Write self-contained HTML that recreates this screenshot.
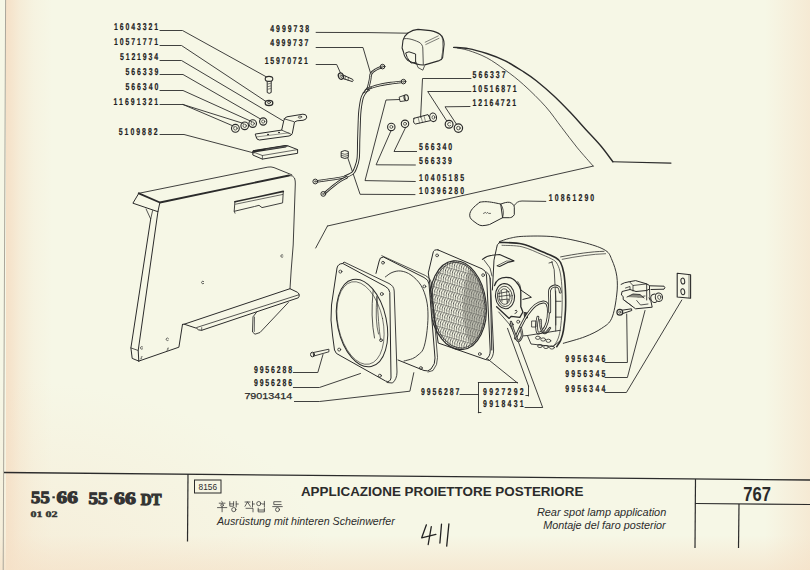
<!DOCTYPE html>
<html><head><meta charset="utf-8">
<style>
html,body{margin:0;padding:0;background:#f6f7e6;}
body{width:810px;height:570px;overflow:hidden;position:relative;}
svg{position:absolute;left:0;top:0;}
.lb{font-family:"Liberation Sans",sans-serif;font-weight:bold;fill:#1e1e1e;stroke:#1e1e1e;stroke-width:0.2;text-rendering:geometricPrecision;}
.lbw{font-family:"Liberation Sans",sans-serif;fill:#2b2b2b;stroke:#2b2b2b;stroke-width:0.25;}
</style></head><body>
<svg width="810" height="570" viewBox="0 0 810 570">
<defs>
<linearGradient id="gL" x1="0" x2="1" y1="0" y2="0">
<stop offset="0" stop-color="#f5e1c8" stop-opacity="1"/>
<stop offset="0.08" stop-color="#f5e1c8" stop-opacity="0.9"/>
<stop offset="0.3" stop-color="#f5e1c8" stop-opacity="0.5"/>
<stop offset="0.6" stop-color="#f5e1c8" stop-opacity="0.18"/>
<stop offset="1" stop-color="#f5e1c8" stop-opacity="0"/>
</linearGradient>
<linearGradient id="gR" x1="0" x2="1" y1="0" y2="0">
<stop offset="0" stop-color="#f5e1c8" stop-opacity="0"/>
<stop offset="1" stop-color="#f5e1c8" stop-opacity="0.6"/>
</linearGradient>
<linearGradient id="gB" x1="0" x2="0" y1="0" y2="1">
<stop offset="0" stop-color="#f5e1c8" stop-opacity="0"/>
<stop offset="1" stop-color="#f5e1c8" stop-opacity="0.65"/>
</linearGradient>
<radialGradient id="gBL" cx="0" cy="1" r="1">
<stop offset="0" stop-color="#f5e1c8" stop-opacity="0.45"/>
<stop offset="1" stop-color="#f5e1c8" stop-opacity="0"/>
</radialGradient>
<pattern id="scal" x="0" y="0" width="2.4" height="7.4" patternUnits="userSpaceOnUse" patternTransform="rotate(16)">
<path d="M1.9,0.4 Q0.4,3.7 1.9,7.0" stroke="#333" stroke-width="0.75" fill="none"/>
<line x1="0" y1="0" x2="2.4" y2="0" stroke="#333" stroke-width="0.8"/>
</pattern>
</defs>
<rect x="0" y="0" width="810" height="570" fill="#f6f7e6"/>
<rect x="6" y="0" width="46" height="570" fill="url(#gL)"/>
<rect x="765" y="0" width="45" height="570" fill="url(#gR)"/>
<rect x="0" y="535" width="810" height="35" fill="url(#gB)"/>
<rect x="0" y="380" width="330" height="190" fill="url(#gBL)"/>
<line x1="5.6" y1="0" x2="3.2" y2="570" stroke="#aaa69a" stroke-width="1"/>

<g stroke="#2b2b2b" fill="none">
<line x1="4" y1="472.5" x2="810" y2="480" stroke-width="1.3"/>
<line x1="188" y1="474" x2="187.5" y2="541.5" stroke-width="1.2"/>
<line x1="695.5" y1="479" x2="695" y2="548" stroke-width="1.2"/>
<line x1="739" y1="504" x2="738.5" y2="548" stroke-width="1.2"/>
<line x1="695" y1="503.5" x2="810" y2="504.5" stroke-width="1.2"/>
<rect x="194.5" y="480" width="26.5" height="13" stroke-width="1"/>
</g>
<g font-family="Liberation Serif" font-weight="bold" fill="#333" stroke="#333" stroke-width="1.1" text-rendering="geometricPrecision">
<text x="31.1" y="503.2" font-size="17.2" textLength="18.6" lengthAdjust="spacingAndGlyphs">55</text>
<text x="56.6" y="503.2" font-size="17.2" textLength="21.3" lengthAdjust="spacingAndGlyphs">66</text>
<text x="88.5" y="504" font-size="17.2" textLength="19.2" lengthAdjust="spacingAndGlyphs">55</text>
<text x="114.1" y="504" font-size="17.2" textLength="21.8" lengthAdjust="spacingAndGlyphs">66</text>
<text x="140.8" y="504.6" font-size="16.6" stroke-width="1.2" textLength="20.8" lengthAdjust="spacingAndGlyphs">DT</text>
<text x="30.5" y="517" font-size="8.5" stroke-width="0.4" textLength="27" lengthAdjust="spacingAndGlyphs">01 02</text>
</g>
<rect x="52.4" y="496.3" width="2.4" height="2" fill="#333"/>
<rect x="109.7" y="497.3" width="2.5" height="2" fill="#333"/>
<g font-family="Liberation Sans" fill="#2b2b2b">
<text x="198.6" y="490" font-size="8.2" textLength="18.4" lengthAdjust="spacingAndGlyphs">8156</text>
<text x="300.9" y="496.3" font-size="13.6" font-weight="bold" textLength="282.5" lengthAdjust="spacingAndGlyphs">APPLICAZIONE PROIETTORE POSTERIORE</text>
<text x="217" y="524.5" font-size="11.5" font-style="italic" textLength="177.8" lengthAdjust="spacingAndGlyphs">Ausrüstung mit hinteren Scheinwerfer</text>
<text x="536.9" y="515.7" font-size="11.2" font-style="italic" textLength="129.4" lengthAdjust="spacingAndGlyphs">Rear spot lamp application</text>
<text x="543.2" y="529.4" font-size="11.2" font-style="italic" textLength="122.5" lengthAdjust="spacingAndGlyphs">Montaje del faro posterior</text>
<text x="743.2" y="500.8" font-size="20" font-weight="bold" textLength="27.7" lengthAdjust="spacingAndGlyphs">767</text>
</g>
<g fill="none" stroke="#2b2b2b" stroke-linecap="round" stroke-linejoin="round">
</g><g>
<text class="lb" transform="translate(113.9,30.3) scale(0.7,1)" x="0" y="0" font-size="9.88" textLength="63.1" lengthAdjust="spacing">16043321</text>
<text class="lb" transform="translate(113.9,45.1) scale(0.7,1)" x="0" y="0" font-size="9.88" textLength="63.1" lengthAdjust="spacing">10571771</text>
<text class="lb" transform="translate(120.0,60.3) scale(0.7,1)" x="0" y="0" font-size="9.88" textLength="54.3" lengthAdjust="spacing">5121934</text>
<text class="lb" transform="translate(125.4,74.8) scale(0.7,1)" x="0" y="0" font-size="9.88" textLength="47.0" lengthAdjust="spacing">566339</text>
<text class="lb" transform="translate(125.4,89.9) scale(0.7,1)" x="0" y="0" font-size="9.88" textLength="47.0" lengthAdjust="spacing">566340</text>
<text class="lb" transform="translate(113.6,105.0) scale(0.7,1)" x="0" y="0" font-size="9.88" textLength="63.7" lengthAdjust="spacing">11691321</text>
<text class="lb" transform="translate(118.8,134.8) scale(0.7,1)" x="0" y="0" font-size="9.88" textLength="55.4" lengthAdjust="spacing">5109882</text>
<text class="lb" transform="translate(270.2,31.7) scale(0.7,1)" x="0" y="0" font-size="9.88" textLength="55.6" lengthAdjust="spacing">4999738</text>
<text class="lb" transform="translate(270.2,45.9) scale(0.7,1)" x="0" y="0" font-size="9.88" textLength="54.4" lengthAdjust="spacing">4999737</text>
<text class="lb" transform="translate(264.7,64.2) scale(0.7,1)" x="0" y="0" font-size="9.88" textLength="61.6" lengthAdjust="spacing">15970721</text>
<text class="lb" transform="translate(472.6,78.0) scale(0.7,1)" x="0" y="0" font-size="9.88" textLength="47.0" lengthAdjust="spacing">566337</text>
<text class="lb" transform="translate(472.6,91.7) scale(0.7,1)" x="0" y="0" font-size="9.88" textLength="62.7" lengthAdjust="spacing">10516871</text>
<text class="lb" transform="translate(472.6,105.7) scale(0.7,1)" x="0" y="0" font-size="9.88" textLength="62.0" lengthAdjust="spacing">12164721</text>
<text class="lb" transform="translate(419.1,150.4) scale(0.7,1)" x="0" y="0" font-size="9.88" textLength="47.3" lengthAdjust="spacing">566340</text>
<text class="lb" transform="translate(419.0,164.4) scale(0.7,1)" x="0" y="0" font-size="9.88" textLength="47.1" lengthAdjust="spacing">566339</text>
<text class="lb" transform="translate(419.0,180.6) scale(0.7,1)" x="0" y="0" font-size="9.88" textLength="64.3" lengthAdjust="spacing">10405185</text>
<text class="lb" transform="translate(419.0,194.3) scale(0.7,1)" x="0" y="0" font-size="9.88" textLength="64.3" lengthAdjust="spacing">10396280</text>
<text class="lb" transform="translate(548.8,201.3) scale(0.7,1)" x="0" y="0" font-size="9.88" textLength="64.9" lengthAdjust="spacing">10861290</text>
<text class="lb" transform="translate(253.9,372.5) scale(0.7,1)" x="0" y="0" font-size="9.88" textLength="54.7" lengthAdjust="spacing">9956288</text>
<text class="lb" transform="translate(253.9,385.9) scale(0.7,1)" x="0" y="0" font-size="9.88" textLength="54.7" lengthAdjust="spacing">9956286</text>
<text class="lb" transform="translate(421.0,395.0) scale(0.7,1)" x="0" y="0" font-size="9.88" textLength="54.7" lengthAdjust="spacing">9956287</text>
<text class="lb" transform="translate(483.0,395.0) scale(0.7,1)" x="0" y="0" font-size="9.88" textLength="58.1" lengthAdjust="spacing">9927292</text>
<text class="lb" transform="translate(483.0,406.9) scale(0.7,1)" x="0" y="0" font-size="9.88" textLength="58.1" lengthAdjust="spacing">9918431</text>
<text class="lb" transform="translate(565.3,362.4) scale(0.7,1)" x="0" y="0" font-size="9.88" textLength="57.1" lengthAdjust="spacing">9956346</text>
<text class="lb" transform="translate(565.3,377.1) scale(0.7,1)" x="0" y="0" font-size="9.88" textLength="57.1" lengthAdjust="spacing">9956345</text>
<text class="lb" transform="translate(565.3,392.2) scale(0.7,1)" x="0" y="0" font-size="9.88" textLength="57.1" lengthAdjust="spacing">9956344</text>
<text class="lbw" x="244.4" y="399.4" font-size="9.05" textLength="47.8" lengthAdjust="spacingAndGlyphs">79013414</text>
</g><g fill="none" stroke="#2b2b2b" stroke-linecap="round" stroke-linejoin="round">
<polyline points="160.0,30.5 182.5,30.5 266.6,77.0" stroke="#2b2b2b" stroke-width="0.9" fill="none" stroke-linejoin="round"/>
<polyline points="160.0,45.5 181.5,45.5 265.7,101.3" stroke="#2b2b2b" stroke-width="0.9" fill="none" stroke-linejoin="round"/>
<polyline points="160.0,60.5 181.5,60.5 283.2,120.9" stroke="#2b2b2b" stroke-width="0.9" fill="none" stroke-linejoin="round"/>
<polyline points="160.0,74.5 183.0,74.5 260.5,119.0" stroke="#2b2b2b" stroke-width="0.9" fill="none" stroke-linejoin="round"/>
<polyline points="160.0,90.5 183.0,90.5 251.5,121.5" stroke="#2b2b2b" stroke-width="0.9" fill="none" stroke-linejoin="round"/>
<polyline points="160.0,104.5 183.0,104.5 243.2,123.4" stroke="#2b2b2b" stroke-width="0.9" fill="none" stroke-linejoin="round"/>
<polyline points="183.0,104.5 233.2,126.0" stroke="#2b2b2b" stroke-width="0.9" fill="none" stroke-linejoin="round"/>
<polyline points="160.0,134.5 184.0,134.5 254.0,153.0" stroke="#2b2b2b" stroke-width="0.9" fill="none" stroke-linejoin="round"/>
<polyline points="316.1,32.4 370.0,32.6 407.9,33.2" stroke="#2b2b2b" stroke-width="0.9" fill="none" stroke-linejoin="round"/>
<polyline points="316.1,47.5 363.0,47.5 370.5,73.0" stroke="#2b2b2b" stroke-width="0.9" fill="none" stroke-linejoin="round"/>
<polyline points="316.1,64.5 336.7,64.5 340.5,73.0" stroke="#2b2b2b" stroke-width="0.9" fill="none" stroke-linejoin="round"/>
<polyline points="471.0,78.5 422.5,78.5 420.6,117.3" stroke="#2b2b2b" stroke-width="0.9" fill="none" stroke-linejoin="round"/>
<polyline points="471.0,91.5 427.7,91.5 446.7,120.9" stroke="#2b2b2b" stroke-width="0.9" fill="none" stroke-linejoin="round"/>
<polyline points="470.0,106.5 445.0,106.8 456.4,124.1" stroke="#2b2b2b" stroke-width="0.9" fill="none" stroke-linejoin="round"/>
<polyline points="405.6,127.5 394.0,151.5 416.6,151.5" stroke="#2b2b2b" stroke-width="0.9" fill="none" stroke-linejoin="round"/>
<polyline points="390.9,131.0 376.1,164.8 415.4,165.0" stroke="#2b2b2b" stroke-width="0.9" fill="none" stroke-linejoin="round"/>
<polyline points="399.5,99.5 386.0,100.0 365.0,180.6 415.3,181.5" stroke="#2b2b2b" stroke-width="0.9" fill="none" stroke-linejoin="round"/>
<polyline points="347.9,158.2 360.1,194.3 415.0,194.6" stroke="#2b2b2b" stroke-width="0.9" fill="none" stroke-linejoin="round"/>
<path d="M514.3,205.4 Q517,201 522,201 L545.8,201.4" stroke="#2b2b2b" stroke-width="0.9" fill="none" stroke-linejoin="round" stroke-linecap="round" />
<polyline points="293.3,372.5 317.8,372.5 323.0,354.5" stroke="#2b2b2b" stroke-width="0.9" fill="none" stroke-linejoin="round"/>
<polyline points="293.3,387.5 319.4,387.5 360.5,373.5" stroke="#2b2b2b" stroke-width="0.9" fill="none" stroke-linejoin="round"/>
<polyline points="294.4,401.5 319.4,401.5 409.9,391.2 413.8,372.7" stroke="#2b2b2b" stroke-width="0.9" fill="none" stroke-linejoin="round"/>
<polyline points="460.0,394.5 478.3,394.5" stroke="#2b2b2b" stroke-width="0.9" fill="none" stroke-linejoin="round"/>
<polyline points="517.5,382.5 478.3,382.5" stroke="#2b2b2b" stroke-width="0.9" fill="none" stroke-linejoin="round"/>
<line x1="478.5" y1="382.5" x2="478.5" y2="412.8" stroke="#2b2b2b" stroke-width="0.9"/>
<polyline points="478.3,412.5 481.0,412.5" stroke="#2b2b2b" stroke-width="0.9" fill="none" stroke-linejoin="round"/>
<line x1="517.5" y1="383.0" x2="485.8" y2="357.5" stroke="#2b2b2b" stroke-width="0.9"/>
<polyline points="525.8,395.5 528.5,395.5" stroke="#2b2b2b" stroke-width="0.9" fill="none" stroke-linejoin="round"/>
<line x1="528.5" y1="396.0" x2="528.5" y2="386.0" stroke="#2b2b2b" stroke-width="0.9"/>
<line x1="528.5" y1="386.0" x2="507.5" y2="328.3" stroke="#2b2b2b" stroke-width="0.9"/>
<polyline points="525.0,407.5 542.5,407.5" stroke="#2b2b2b" stroke-width="0.9" fill="none" stroke-linejoin="round"/>
<line x1="542.5" y1="407.0" x2="518.3" y2="341.7" stroke="#2b2b2b" stroke-width="0.9"/>
<polyline points="605.0,362.5 627.4,362.5 626.7,314.0" stroke="#2b2b2b" stroke-width="0.9" fill="none" stroke-linejoin="round"/>
<polyline points="605.0,377.5 627.4,377.5 645.0,310.5" stroke="#2b2b2b" stroke-width="0.9" fill="none" stroke-linejoin="round"/>
<polyline points="605.0,392.5 626.4,392.5 681.8,300.0" stroke="#2b2b2b" stroke-width="0.9" fill="none" stroke-linejoin="round"/>
<path d="M453.7,47.4 C456.1,47.6 462.9,47.6 468.4,48.6 C473.9,49.6 480.6,51.5 486.8,53.5 C493.0,55.5 499.1,57.8 505.3,60.9 C511.5,64.0 518.5,68.6 523.7,71.9 C528.9,75.2 531.3,76.8 536.3,80.8 C541.3,84.8 548.2,90.7 553.7,95.8 C559.2,100.9 564.2,106.1 569.5,111.6 C574.8,117.1 580.0,123.2 585.3,129.0 C590.6,134.8 596.5,140.8 601.1,146.3 C605.7,151.8 610.9,159.2 612.9,161.8" stroke="#2b2b2b" stroke-width="1.4" fill="none" stroke-linejoin="round" stroke-linecap="round" />
<line x1="612.9" y1="161.8" x2="671.0" y2="163.1" stroke="#2b2b2b" stroke-width="1.1"/>
<path d="M457.4,48.0 C459.2,48.4 463.5,48.8 468.4,50.4 C473.3,52.0 480.6,54.5 486.8,57.8 C493.0,61.1 499.1,65.6 505.3,70.1 C511.5,74.6 517.0,78.7 523.7,84.8 C530.5,90.9 539.5,99.7 545.8,106.8 C552.1,113.9 556.3,120.6 561.6,127.4 C566.9,134.2 572.1,141.5 577.4,147.9 C582.7,154.3 590.6,163.1 593.2,166.1" stroke="#2b2b2b" stroke-width="0.8" fill="none" stroke-linejoin="round" stroke-linecap="round" />
<line x1="593.2" y1="166.1" x2="327.5" y2="226.0" stroke="#2b2b2b" stroke-width="0.9"/>
<line x1="327.5" y1="226.0" x2="315.7" y2="248.0" stroke="#2b2b2b" stroke-width="0.9"/>
<path d="M479.8,202.3 C476,205 471,209 469.9,213.4 C469,217 471,219 472.3,220.2 C476,223 479,225.7 482.2,225.7 C485,225.7 487,225 489.6,224.5 L502.6,217.7 L500.7,204.1 C494,202.5 488,201.5 484.7,201.7 C482,201.8 481,202 479.8,202.3 Z" stroke="#2b2b2b" stroke-width="1.0" fill="none" stroke-linejoin="round" stroke-linecap="round" />
<path d="M500.7,204.1 C504,202.8 507,202 509.4,202.3 C512,203 514.3,205 514.3,207.2 L514.3,214.6 C513,217 511,217.7 509.4,217.7 L502.6,217.7" stroke="#2b2b2b" stroke-width="1.0" fill="none" stroke-linejoin="round" stroke-linecap="round" />
<path d="M500.7,204.1 Q505,210 502.6,217.7" stroke="#2b2b2b" stroke-width="0.8" fill="none" stroke-linejoin="round" stroke-linecap="round" />
<path d="M483.5,213.4 l2,-1 l1,1 l1,-1 l1,1 l2,0" stroke="#2b2b2b" stroke-width="0.7" fill="none" stroke-linejoin="round" stroke-linecap="round" />
<path d="M267.2,80.5 L267.2,92.5 Q269.2,94.2 271.2,92.5 L271.2,80.5" stroke="#2b2b2b" stroke-width="1.0" fill="none" stroke-linejoin="round" stroke-linecap="round" />
<ellipse cx="269.0" cy="78.9" rx="3.8" ry="2.5" transform="rotate(0 269.0 78.9)" stroke="#2b2b2b" stroke-width="1.1" fill="#f6f7e6"/>
<path d="M268,84 L270.4,83.4 M268,86.6 L270.4,86 M268,89.2 L270.4,88.6" stroke="#2b2b2b" stroke-width="0.6" fill="none" stroke-linejoin="round" stroke-linecap="round" />
<ellipse cx="269.0" cy="102.9" rx="3.8" ry="2.6" transform="rotate(0 269.0 102.9)" stroke="#2b2b2b" stroke-width="1.3" fill="none"/>
<ellipse cx="269.0" cy="102.5" rx="1.6" ry="1.0" transform="rotate(0 269.0 102.5)" stroke="#2b2b2b" stroke-width="0.8" fill="none"/>
<circle cx="263.2" cy="121.5" r="3.6" stroke="#2b2b2b" stroke-width="1.1" fill="none"/>
<circle cx="263.2" cy="121.5" r="1.6" stroke="#2b2b2b" stroke-width="0.7" fill="none"/>
<circle cx="252.7" cy="123.6" r="3.8" stroke="#2b2b2b" stroke-width="1.1" fill="none"/>
<circle cx="252.7" cy="123.6" r="1.7" stroke="#2b2b2b" stroke-width="0.7" fill="none"/>
<circle cx="244.7" cy="125.8" r="3.8" stroke="#2b2b2b" stroke-width="1.1" fill="none"/>
<circle cx="244.7" cy="125.8" r="1.7" stroke="#2b2b2b" stroke-width="0.7" fill="none"/>
<circle cx="235.4" cy="128.3" r="3.9" stroke="#2b2b2b" stroke-width="1.1" fill="none"/>
<circle cx="235.4" cy="128.3" r="1.8" stroke="#2b2b2b" stroke-width="0.7" fill="none"/>
<path d="M255.6,134 L281.7,130.1 L283.8,120.5 Q284.5,117.5 287,116.8 L302.9,114.2 Q306.5,114 306.8,117.1 Q306.5,119.8 303,120.3 L297.1,120.8 L294.5,122 L292.3,133.5 Q291.5,135.5 289,136 L259.5,140 Q256.5,140 256.1,137 Z" stroke="#2b2b2b" stroke-width="1.0" fill="none" stroke-linejoin="round" stroke-linecap="round" />
<path d="M284.1,118.8 L293.8,121.6" stroke="#2b2b2b" stroke-width="0.8" fill="none" stroke-linejoin="round" stroke-linecap="round" />
<path d="M281.7,130.1 L291.8,134.6" stroke="#2b2b2b" stroke-width="0.8" fill="none" stroke-linejoin="round" stroke-linecap="round" />
<path d="M256.1,137 L289,132.8" stroke="#2b2b2b" stroke-width="0.5" fill="none" stroke-linejoin="round" stroke-linecap="round" />
<ellipse cx="300.0" cy="117.1" rx="1.7" ry="1.0" transform="rotate(-10 300.0 117.1)" stroke="#2b2b2b" stroke-width="0.7" fill="none"/>
<circle cx="268" cy="134.5" r="0.5" fill="#2b2b2b"/><circle cx="279" cy="132.5" r="0.5" fill="#2b2b2b"/>
<path d="M253.2,151 L287,145.5 L297.6,149.6 L297.6,153.3 L262.4,159.1 L253.2,155.2 Z" stroke="#2b2b2b" stroke-width="1.0" fill="none" stroke-linejoin="round" stroke-linecap="round" />
<path d="M254,151.2 L285.6,146.2" stroke="#2b2b2b" stroke-width="2.4" fill="none" stroke-linejoin="round" stroke-linecap="round" />
<path d="M253.2,152 L262.4,155.5 L297.6,149.6 M262.4,155.5 L262.4,159.1" stroke="#2b2b2b" stroke-width="0.7" fill="none" stroke-linejoin="round" stroke-linecap="round" />
<path d="M266,149.5 L288,146" stroke="#555" stroke-width="1.2" fill="none" stroke-linejoin="round" stroke-linecap="round" />
<path d="M138.8,193.3 L267.9,167.1 Q271,166.5 274,167.6 L291.8,174.8" stroke="#2b2b2b" stroke-width="0.9" fill="none" stroke-linejoin="round" stroke-linecap="round" />
<path d="M138.8,193.3 L159.9,202.5 L289,175.5" stroke="#2b2b2b" stroke-width="1.9" fill="none" stroke-linejoin="round" stroke-linecap="round" />
<path d="M289,175.5 Q293,175 294.5,178 Q295.5,181 295.3,184 L293.2,245 L291.2,270 L290,288.7" stroke="#2b2b2b" stroke-width="0.9" fill="none" stroke-linejoin="round" stroke-linecap="round" />
<path d="M138.8,193.3 L132.9,203.2 L157.9,211.7 L159.9,202.5" stroke="#2b2b2b" stroke-width="1.0" fill="none" stroke-linejoin="round" stroke-linecap="round" />
<path d="M146.1,209 L150.7,219 L152.6,210.6" stroke="#2b2b2b" stroke-width="0.8" fill="none" stroke-linejoin="round" stroke-linecap="round" />
<path d="M150.7,219 L130.9,347.9 L132.2,358.4 L138.8,361.1" stroke="#2b2b2b" stroke-width="1.0" fill="none" stroke-linejoin="round" stroke-linecap="round" />
<path d="M158,211.2 L138.2,350.5 L138.8,361.1" stroke="#2b2b2b" stroke-width="1.0" fill="none" stroke-linejoin="round" stroke-linecap="round" />
<path d="M130.9,347.9 L138.2,350.5" stroke="#2b2b2b" stroke-width="0.8" fill="none" stroke-linejoin="round" stroke-linecap="round" />
<path d="M138.8,361.1 L178.9,347.2 L182.5,324.4" stroke="#2b2b2b" stroke-width="1.0" fill="none" stroke-linejoin="round" stroke-linecap="round" />
<path d="M182.5,324.4 L184.2,324.2 L290,288.7 L297.5,292.3 Q299.8,293.8 299.2,296.2 L298.3,297.8 L201.7,330.3 Q198,330.5 196.7,328.3 L184.2,324.2" stroke="#2b2b2b" stroke-width="1.0" fill="none" stroke-linejoin="round" stroke-linecap="round" />
<path d="M196.7,327.5 L298.8,294.8" stroke="#2b2b2b" stroke-width="0.8" fill="none" stroke-linejoin="round" stroke-linecap="round" />
<path d="M201.7,327.6 L201.7,330.3" stroke="#2b2b2b" stroke-width="0.7" fill="none" stroke-linejoin="round" stroke-linecap="round" />
<path d="M256.7,312 L253,316.8 L252.5,332 L255,334.2 L260,332.5 L288.3,302.5" stroke="#2b2b2b" stroke-width="0.9" fill="none" stroke-linejoin="round" stroke-linecap="round" />
<path d="M254.5,317 L254.3,331.5" stroke="#555" stroke-width="0.9" fill="none" stroke-linejoin="round" stroke-linecap="round" />
<path d="M234.9,201.8 L283.3,191.4" stroke="#2b2b2b" stroke-width="1.6" fill="none" stroke-linejoin="round" stroke-linecap="round" />
<path d="M283.3,191.4 L282.6,202.9 L262,207.6 L259,205.3 L254.5,206.5 L234.2,211.3 L234.9,201.8" stroke="#2b2b2b" stroke-width="0.9" fill="none" stroke-linejoin="round" stroke-linecap="round" />
<path d="M235.6,204.2 L282.6,194.5" stroke="#2b2b2b" stroke-width="0.7" fill="none" stroke-linejoin="round" stroke-linecap="round" />
<path d="M234.2,211.3 L235,213.2" stroke="#2b2b2b" stroke-width="0.8" fill="none" stroke-linejoin="round" stroke-linecap="round" />
<path d="M282.9,255.0 A1.3,1.3 0 1 0 282.9,257.0" stroke="#2b2b2b" stroke-width="0.7" fill="none" stroke-linejoin="round" stroke-linecap="round" />
<path d="M203.7,281.5 A1.3,1.3 0 1 0 203.7,283.5" stroke="#2b2b2b" stroke-width="0.7" fill="none" stroke-linejoin="round" stroke-linecap="round" />
<path d="M168.3,338.3 A1.3,1.3 0 1 0 168.3,340.3" stroke="#2b2b2b" stroke-width="0.7" fill="none" stroke-linejoin="round" stroke-linecap="round" />
<path d="M142.6,346.9 A1.3,1.3 0 1 0 142.6,348.9" stroke="#2b2b2b" stroke-width="0.7" fill="none" stroke-linejoin="round" stroke-linecap="round" />
<path d="M168.6,348.0 Q166.8,347.7 167.8,349.2 Q168.8,350.4 166.9,350.3" stroke="#2b2b2b" stroke-width="0.6" fill="none" stroke-linejoin="round" stroke-linecap="round" />
<path d="M142.2,356.6 Q140.4,356.3 141.4,357.8 Q142.4,359.0 140.5,358.9" stroke="#2b2b2b" stroke-width="0.6" fill="none" stroke-linejoin="round" stroke-linecap="round" />
<path d="M407.9,33 C411,31 414,29.6 418,29.4 L430.6,30.6 C435,31.5 438,32.5 440.2,34.5 C443,37 444.1,40 444.1,44.1 L442.6,57.7 C442,59 441,60 439.2,60.6 L424.8,64.9 C419,65.5 413,63 408,60.5 C405,58 404,55 403.5,52 L402.1,48 L403,40.3 C404,37 406,34.5 407.9,33 Z" stroke="#2b2b2b" stroke-width="1.1" fill="none" stroke-linejoin="round" stroke-linecap="round" />
<path d="M404,38.8 C407,38 412,39 419,42.2 C421.5,43.5 422.8,46 422.8,48 L423.3,64.4" stroke="#2b2b2b" stroke-width="0.8" fill="none" stroke-linejoin="round" stroke-linecap="round" />
<path d="M425.2,42.2 L438.3,35.9 M425.8,44.5 L439,38.3" stroke="#2b2b2b" stroke-width="0.6" fill="none" stroke-linejoin="round" stroke-linecap="round" />
<path d="M442,36 C443,42 443.5,50 441.5,58" stroke="#2b2b2b" stroke-width="0.6" fill="none" stroke-linejoin="round" stroke-linecap="round" />
<path d="M406,52.8 L409,51.8 L415.6,54 L415.6,62.5 L411,63 L407.5,58 Z" stroke="#2b2b2b" stroke-width="1.0" fill="none" stroke-linejoin="round" stroke-linecap="round" />
<path d="M416,62 L418,67.5 L422.8,70.2 L424.5,66" stroke="#2b2b2b" stroke-width="0.8" fill="none" stroke-linejoin="round" stroke-linecap="round" />
<path d="M368.0,88.5 C367.1,89.9 363.8,93.2 362.5,96.8 C361.2,100.4 360.5,105.9 360.0,110.0 C359.5,114.1 359.5,116.3 359.3,121.3 C359.1,126.3 358.9,133.8 358.7,140.0 C358.5,146.2 358.7,153.5 358.2,158.2 C357.7,162.9 356.4,165.6 355.5,168.0 C354.6,170.4 354.5,171.4 352.8,172.9 C351.1,174.4 346.6,176.2 345.4,176.8" stroke="#2b2b2b" stroke-width="3.2" fill="none" stroke-linejoin="round" stroke-linecap="round" />
<path d="M368.0,88.5 C367.1,89.9 363.8,93.2 362.5,96.8 C361.2,100.4 360.5,105.9 360.0,110.0 C359.5,114.1 359.5,116.3 359.3,121.3 C359.1,126.3 358.9,133.8 358.7,140.0 C358.5,146.2 358.7,153.5 358.2,158.2 C357.7,162.9 356.4,165.6 355.5,168.0 C354.6,170.4 354.5,171.4 352.8,172.9 C351.1,174.4 346.6,176.2 345.4,176.8" stroke="#f6f7e6" stroke-width="1.3" fill="none" stroke-linejoin="round" stroke-linecap="round" />
<path d="M368.0,88.5 C368.3,87.1 369.5,82.5 370.0,80.0 C370.5,77.5 370.2,75.2 371.2,73.5 C372.2,71.8 374.4,70.5 376.0,69.5 C377.6,68.5 379.8,67.8 380.5,67.5" stroke="#2b2b2b" stroke-width="2.6" fill="none" stroke-linejoin="round" stroke-linecap="round" />
<path d="M368.0,88.5 C368.3,87.1 369.5,82.5 370.0,80.0 C370.5,77.5 370.2,75.2 371.2,73.5 C372.2,71.8 374.4,70.5 376.0,69.5 C377.6,68.5 379.8,67.8 380.5,67.5" stroke="#f6f7e6" stroke-width="0.9" fill="none" stroke-linejoin="round" stroke-linecap="round" />
<path d="M368.0,88.5 C370.0,87.9 376.0,85.9 380.0,85.0 C384.0,84.1 388.5,83.5 392.0,83.0 C395.5,82.5 399.5,82.2 401.0,82.0" stroke="#2b2b2b" stroke-width="2.6" fill="none" stroke-linejoin="round" stroke-linecap="round" />
<path d="M368.0,88.5 C370.0,87.9 376.0,85.9 380.0,85.0 C384.0,84.1 388.5,83.5 392.0,83.0 C395.5,82.5 399.5,82.2 401.0,82.0" stroke="#f6f7e6" stroke-width="0.9" fill="none" stroke-linejoin="round" stroke-linecap="round" />
<circle cx="382.6" cy="66.6" r="2.3" stroke="#2b2b2b" stroke-width="1.0" fill="none"/>
<circle cx="382.6" cy="66.6" r="0.8" stroke="#2b2b2b" stroke-width="0.6" fill="none"/>
<circle cx="403.5" cy="81.6" r="2.3" stroke="#2b2b2b" stroke-width="1.0" fill="none"/>
<circle cx="403.5" cy="81.6" r="0.8" stroke="#2b2b2b" stroke-width="0.6" fill="none"/>
<path d="M345.4,176.8 C344.0,177.1 340.4,177.9 337.0,178.5 C333.6,179.1 328.2,179.7 325.0,180.2 C321.8,180.7 319.2,181.1 318.0,181.3" stroke="#2b2b2b" stroke-width="2.6" fill="none" stroke-linejoin="round" stroke-linecap="round" />
<path d="M345.4,176.8 C344.0,177.1 340.4,177.9 337.0,178.5 C333.6,179.1 328.2,179.7 325.0,180.2 C321.8,180.7 319.2,181.1 318.0,181.3" stroke="#f6f7e6" stroke-width="0.9" fill="none" stroke-linejoin="round" stroke-linecap="round" />
<path d="M346.5,177.5 C345.4,178.1 342.4,179.4 340.0,181.0 C337.6,182.6 334.4,185.1 332.0,187.0 C329.6,188.9 326.6,191.6 325.5,192.5" stroke="#2b2b2b" stroke-width="2.6" fill="none" stroke-linejoin="round" stroke-linecap="round" />
<path d="M346.5,177.5 C345.4,178.1 342.4,179.4 340.0,181.0 C337.6,182.6 334.4,185.1 332.0,187.0 C329.6,188.9 326.6,191.6 325.5,192.5" stroke="#f6f7e6" stroke-width="0.9" fill="none" stroke-linejoin="round" stroke-linecap="round" />
<circle cx="315.3" cy="181.5" r="2.4" stroke="#2b2b2b" stroke-width="1.0" fill="none"/>
<circle cx="315.3" cy="181.5" r="0.8" stroke="#2b2b2b" stroke-width="0.6" fill="none"/>
<circle cx="323.3" cy="193.9" r="2.4" stroke="#2b2b2b" stroke-width="1.0" fill="none"/>
<circle cx="323.3" cy="193.9" r="0.8" stroke="#2b2b2b" stroke-width="0.6" fill="none"/>
<path d="M365,90 L371.5,87.5 M363,93 L369.5,90.5" stroke="#2b2b2b" stroke-width="0.8" fill="none" stroke-linejoin="round" stroke-linecap="round" />
<path d="M341.5,151.5 Q344.9,149.5 348.3,151.5 L348.3,157.5 Q344.9,159.5 341.5,157.5 Z" stroke="#2b2b2b" stroke-width="1.0" fill="#f6f7e6" stroke-linejoin="round" stroke-linecap="round" />
<path d="M341.5,153.5 Q344.9,155.3 348.3,153.5 M341.5,155.5 Q344.9,157.3 348.3,155.5" stroke="#2b2b2b" stroke-width="0.7" fill="none" stroke-linejoin="round" stroke-linecap="round" />
<path d="M342.5,74.8 L352.6,79.3 Q353.8,80.6 352.4,81.6 L342,78.2" stroke="#2b2b2b" stroke-width="1.0" fill="#f6f7e6" stroke-linejoin="round" stroke-linecap="round" />
<ellipse cx="340.9" cy="76.1" rx="2.5" ry="3.2" transform="rotate(-20 340.9 76.1)" stroke="#2b2b2b" stroke-width="1.2" fill="#f6f7e6"/>
<ellipse cx="341.2" cy="76.1" rx="1.0" ry="1.4" transform="rotate(-20 341.2 76.1)" stroke="#2b2b2b" stroke-width="0.7" fill="none"/>
<path d="M345.5,76 L345,79.4 M348.5,77.3 L348,80.4" stroke="#2b2b2b" stroke-width="0.6" fill="none" stroke-linejoin="round" stroke-linecap="round" />
<path d="M399.5,97 L404.5,95.2 L405.5,100.8 L400.5,101.5 Z" stroke="#2b2b2b" stroke-width="0.9" fill="none" stroke-linejoin="round" stroke-linecap="round" />
<ellipse cx="406.2" cy="97.8" rx="2.2" ry="3.0" transform="rotate(-10 406.2 97.8)" stroke="#2b2b2b" stroke-width="1.0" fill="none"/>
<circle cx="391.3" cy="126.9" r="3.7" stroke="#2b2b2b" stroke-width="1.1" fill="none"/>
<circle cx="391.3" cy="126.9" r="1.5" stroke="#2b2b2b" stroke-width="0.7" fill="none"/>
<circle cx="405.0" cy="123.8" r="3.7" stroke="#2b2b2b" stroke-width="1.1" fill="none"/>
<circle cx="405.0" cy="123.8" r="1.5" stroke="#2b2b2b" stroke-width="0.7" fill="none"/>
<path d="M414,118.3 L428,114.6 L431,120.5 L415.5,124 Q412.5,123.2 414,118.3 Z" stroke="#2b2b2b" stroke-width="1.0" fill="none" stroke-linejoin="round" stroke-linecap="round" />
<path d="M418,117.2 L419.5,123 M421,116.5 L422.5,122.3 M424,115.8 L425.5,121.6" stroke="#2b2b2b" stroke-width="0.5" fill="none" stroke-linejoin="round" stroke-linecap="round" />
<ellipse cx="433.1" cy="117.3" rx="3.4" ry="4.3" transform="rotate(-10 433.1 117.3)" stroke="#2b2b2b" stroke-width="1.1" fill="#f6f7e6"/>
<ellipse cx="433.4" cy="117.3" rx="1.4" ry="1.8" transform="rotate(0 433.4 117.3)" stroke="#2b2b2b" stroke-width="0.7" fill="none"/>
<circle cx="449.1" cy="124.2" r="3.9" stroke="#2b2b2b" stroke-width="1.2" fill="none"/>
<path d="M450.5,122.8 A1.8,1.8 0 1 0 450.6,125.6" stroke="#2b2b2b" stroke-width="0.8" fill="none" stroke-linejoin="round" stroke-linecap="round" />
<circle cx="458.4" cy="128.1" r="4.2" stroke="#2b2b2b" stroke-width="1.2" fill="none"/>
<circle cx="458.4" cy="128.1" r="1.8" stroke="#2b2b2b" stroke-width="0.8" fill="none"/>
<path d="M499.6,241.6 C501.2,241.1 505.3,239.3 509.3,238.4 C513.3,237.5 516.2,236.6 523.7,236.3 C531.2,236.0 543.8,235.7 554.2,236.8 C564.6,238.0 577.7,240.9 586.3,243.2 C594.9,245.5 601.3,247.7 605.6,250.5 C609.9,253.3 610.1,255.8 612.0,260.1 C613.9,264.4 616.0,270.4 616.8,276.2 C617.6,282.0 617.6,288.0 616.7,295.0 C615.9,302.0 614.2,312.8 611.7,318.3 C609.2,323.9 606.2,325.2 601.7,328.3 C597.2,331.4 591.4,334.2 585.0,336.7 C578.6,339.2 566.9,342.2 563.3,343.3" stroke="#2b2b2b" stroke-width="0.95" fill="none" stroke-linejoin="round" stroke-linecap="round" />
<path d="M560.6,256.9 C575,254 592,251.5 604,251.3" stroke="#2b2b2b" stroke-width="0.8" fill="none" stroke-linejoin="round" stroke-linecap="round" />
<path d="M562.2,259.3 C576,256.5 593,254 605.6,253.7" stroke="#2b2b2b" stroke-width="0.7" fill="none" stroke-linejoin="round" stroke-linecap="round" />
<path d="M499.6,242.4 C503.4,242.7 514.9,242.4 522.1,244.0 C529.3,245.6 537.4,249.8 543.0,252.1 C548.6,254.4 552.9,256.0 555.8,257.7 C558.7,259.4 559.3,259.9 560.6,262.5 C561.9,265.1 563.0,268.4 563.8,273.0 C564.6,277.6 565.1,283.8 565.4,290.0 C565.7,296.2 565.8,303.3 565.5,310.0 C565.2,316.7 564.3,325.0 563.5,330.0 C562.7,335.0 561.9,337.2 560.8,340.0 C559.7,342.8 557.4,345.6 556.7,346.7" stroke="#2b2b2b" stroke-width="1.6" fill="none" stroke-linejoin="round" stroke-linecap="round" />
<path d="M502.0,245.3 C505.3,245.6 515.3,245.2 522.0,246.8 C528.7,248.4 536.8,252.4 542.0,254.6 C547.2,256.8 550.9,258.4 553.5,260.0 C556.1,261.6 556.3,262.2 557.5,264.5 C558.7,266.8 559.8,269.8 560.5,274.0 C561.2,278.2 561.8,284.0 562.0,290.0 C562.2,296.0 562.3,303.3 562.0,310.0 C561.7,316.7 561.0,325.0 560.2,330.0 C559.5,335.0 558.6,337.3 557.5,340.0 C556.4,342.7 554.2,345.0 553.5,346.0" stroke="#2b2b2b" stroke-width="0.7" fill="none" stroke-linejoin="round" stroke-linecap="round" />
<path d="M551.8,261.7 L554.2,269.7 L555.8,300 L555.8,325" stroke="#2b2b2b" stroke-width="0.8" fill="none" stroke-linejoin="round" stroke-linecap="round" />
<path d="M549,263 L552.6,262" stroke="#2b2b2b" stroke-width="0.8" fill="none" stroke-linejoin="round" stroke-linecap="round" />
<path d="M499.6,242.4 Q496.5,244 496.4,248.9 L494,260.1 L492.4,290" stroke="#2b2b2b" stroke-width="1.0" fill="none" stroke-linejoin="round" stroke-linecap="round" />
<path d="M482.4,259.3 Q487,255.5 492,255.2 L499.6,254.5 L514.1,260.9 L507.7,262.5 L499.6,266.5 L497.2,265.7" stroke="#2b2b2b" stroke-width="1.1" fill="none" stroke-linejoin="round" stroke-linecap="round" />
<path d="M497.2,265.7 L506.5,261 L512,261.2" stroke="#2b2b2b" stroke-width="0.7" fill="none" stroke-linejoin="round" stroke-linecap="round" />
<path d="M484,260 L490,268 L492,276" stroke="#2b2b2b" stroke-width="0.8" fill="none" stroke-linejoin="round" stroke-linecap="round" />
<path d="M494.5,285.7 C496,280 501,277.3 506.1,277.3 C511,277.3 514.5,279.5 516.6,282.5 C519,285 520.8,288 520.8,292 L520.8,306.8 L522.9,312 L519.8,317.3 L511.3,316.3 L509.2,318.4 L496.6,306.8" stroke="#2b2b2b" stroke-width="1.3" fill="#f6f7e6" stroke-linejoin="round" stroke-linecap="round" />
<ellipse cx="505.0" cy="296.2" rx="9.5" ry="12.6" transform="rotate(-5 505.0 296.2)" stroke="#2b2b2b" stroke-width="1.1" fill="none"/>
<ellipse cx="504.8" cy="296.4" rx="7.4" ry="10.2" transform="rotate(-5 504.8 296.4)" stroke="#2b2b2b" stroke-width="0.8" fill="none"/>
<ellipse cx="504.5" cy="296.6" rx="5.5" ry="7.8" transform="rotate(-5 504.5 296.6)" stroke="#2b2b2b" stroke-width="0.7" fill="none"/>
<path d="M498.5,293.5 L509,291.5 M499,296.5 L510,295 M500,300 L508.5,299 L507,303.5" stroke="#2b2b2b" stroke-width="0.8" fill="none" stroke-linejoin="round" stroke-linecap="round" />
<path d="M501.5,290.5 L502,302 M506.5,290 L507,302" stroke="#2b2b2b" stroke-width="0.6" fill="none" stroke-linejoin="round" stroke-linecap="round" />
<path d="M517.8,281.5 Q520.5,284 521,290" stroke="#2b2b2b" stroke-width="0.7" fill="none" stroke-linejoin="round" stroke-linecap="round" />
<path d="M521.4,290.4 L531.4,297.3 L522.9,299.4" stroke="#2b2b2b" stroke-width="1.0" fill="none" stroke-linejoin="round" stroke-linecap="round" />
<path d="M515.2,310.5 Q517,309.5 517,311.5 Q517,313 515,313.5" stroke="#2b2b2b" stroke-width="0.9" fill="none" stroke-linejoin="round" stroke-linecap="round" />
<path d="M524.5,312.5 L527,313 L527.4,318 L525,318.3 Z" stroke="#2b2b2b" stroke-width="1.0" fill="#444" stroke-linejoin="round" stroke-linecap="round" />
<path d="M498.7,312 L509.2,324 L514,333" stroke="#2b2b2b" stroke-width="0.8" fill="none" stroke-linejoin="round" stroke-linecap="round" />
<circle cx="511.5" cy="324.5" r="1.7" stroke="#2b2b2b" stroke-width="0.8" fill="none"/>
<path d="M515.5,338.2 C516.4,336.2 519.0,329.9 521.0,326.0 C523.0,322.1 525.0,317.9 527.4,314.5 C529.8,311.1 532.7,307.4 535.3,305.3 C537.9,303.2 541.2,302.2 543.2,302.0 C545.2,301.8 546.2,302.4 547.1,304.0 C548.0,305.6 548.4,308.7 548.4,311.8 C548.4,314.9 548.0,319.3 547.1,322.4 C546.2,325.5 544.7,328.6 543.2,330.3 C541.7,332.1 539.0,333.8 537.9,332.9 C536.8,332.0 536.6,327.6 536.6,325.0 C536.6,322.4 537.7,318.4 537.9,317.1" stroke="#2b2b2b" stroke-width="2.8" fill="none" stroke-linejoin="round" stroke-linecap="round" />
<path d="M515.5,338.2 C516.4,336.2 519.0,329.9 521.0,326.0 C523.0,322.1 525.0,317.9 527.4,314.5 C529.8,311.1 532.7,307.4 535.3,305.3 C537.9,303.2 541.2,302.2 543.2,302.0 C545.2,301.8 546.2,302.4 547.1,304.0 C548.0,305.6 548.4,308.7 548.4,311.8 C548.4,314.9 548.0,319.3 547.1,322.4 C546.2,325.5 544.7,328.6 543.2,330.3 C541.7,332.1 539.0,333.8 537.9,332.9 C536.8,332.0 536.6,327.6 536.6,325.0 C536.6,322.4 537.7,318.4 537.9,317.1" stroke="#f6f7e6" stroke-width="1.0999999999999999" fill="none" stroke-linejoin="round" stroke-linecap="round" />
<path d="M549.7,312.0 C549.7,310.0 549.7,303.7 549.7,300.0 C549.7,296.3 549.0,292.3 549.7,290.0 C550.4,287.7 552.2,286.6 553.7,286.2 C555.2,285.8 557.8,286.5 558.9,287.5 C560.0,288.5 560.1,291.3 560.3,292.1" stroke="#2b2b2b" stroke-width="2.8" fill="none" stroke-linejoin="round" stroke-linecap="round" />
<path d="M549.7,312.0 C549.7,310.0 549.7,303.7 549.7,300.0 C549.7,296.3 549.0,292.3 549.7,290.0 C550.4,287.7 552.2,286.6 553.7,286.2 C555.2,285.8 557.8,286.5 558.9,287.5 C560.0,288.5 560.1,291.3 560.3,292.1" stroke="#f6f7e6" stroke-width="1.0999999999999999" fill="none" stroke-linejoin="round" stroke-linecap="round" />
<path d="M540.5,320.0 C540.6,321.3 540.2,325.8 541.0,328.0 C541.8,330.2 543.5,333.0 545.0,333.0 C546.5,333.0 549.2,328.8 550.0,328.0" stroke="#2b2b2b" stroke-width="2.4" fill="none" stroke-linejoin="round" stroke-linecap="round" />
<path d="M540.5,320.0 C540.6,321.3 540.2,325.8 541.0,328.0 C541.8,330.2 543.5,333.0 545.0,333.0 C546.5,333.0 549.2,328.8 550.0,328.0" stroke="#f6f7e6" stroke-width="0.7" fill="none" stroke-linejoin="round" stroke-linecap="round" />
<path d="M555.7,291 L555.7,331 M555.7,301.3 L561,301.3 M555.7,317.1 L561,317.1" stroke="#2b2b2b" stroke-width="0.8" fill="none" stroke-linejoin="round" stroke-linecap="round" />
<path d="M532,321 L536,321 L536,327 L532,327 Z" stroke="#2b2b2b" stroke-width="0.8" fill="none" stroke-linejoin="round" stroke-linecap="round" />
<path d="M522,336 L527.4,335.5 L560.3,330.3 M527.4,335.5 L531,344 L553,346.5 L560,341" stroke="#2b2b2b" stroke-width="0.9" fill="none" stroke-linejoin="round" stroke-linecap="round" />
<ellipse cx="537.9" cy="337.8" rx="2.4" ry="1.6" transform="rotate(0 537.9 337.8)" stroke="#2b2b2b" stroke-width="0.8" fill="none"/>
<ellipse cx="543.2" cy="339.5" rx="2.4" ry="1.6" transform="rotate(0 543.2 339.5)" stroke="#2b2b2b" stroke-width="0.8" fill="none"/>
<ellipse cx="548.4" cy="340.8" rx="2.4" ry="1.6" transform="rotate(0 548.4 340.8)" stroke="#2b2b2b" stroke-width="0.8" fill="none"/>
<ellipse cx="540.0" cy="346.0" rx="2.4" ry="1.6" transform="rotate(0 540.0 346.0)" stroke="#2b2b2b" stroke-width="0.8" fill="none"/>
<ellipse cx="546.0" cy="347.0" rx="2.4" ry="1.6" transform="rotate(0 546.0 347.0)" stroke="#2b2b2b" stroke-width="0.8" fill="none"/>
<ellipse cx="552.0" cy="347.5" rx="2.4" ry="1.6" transform="rotate(0 552.0 347.5)" stroke="#2b2b2b" stroke-width="0.8" fill="none"/>
<path d="M511.0,322.0 C511.5,323.7 512.8,328.9 514.0,332.0 C515.2,335.1 516.7,340.1 518.0,340.8 C519.3,341.5 521.5,338.1 522.0,336.0 C522.5,333.9 521.0,329.3 520.8,328.0" stroke="#2b2b2b" stroke-width="2.4" fill="none" stroke-linejoin="round" stroke-linecap="round" />
<path d="M511.0,322.0 C511.5,323.7 512.8,328.9 514.0,332.0 C515.2,335.1 516.7,340.1 518.0,340.8 C519.3,341.5 521.5,338.1 522.0,336.0 C522.5,333.9 521.0,329.3 520.8,328.0" stroke="#f6f7e6" stroke-width="0.7" fill="none" stroke-linejoin="round" stroke-linecap="round" />
<circle cx="518.2" cy="321.7" r="1.5" stroke="#2b2b2b" stroke-width="0.8" fill="none"/>
<path d="M438,249.9 L482,268.8 Q486,270.5 486.5,275 L490.2,350 Q490.5,357 485.5,359.5 L438.2,343 L428.3,272.9 L433,253 Q433.5,249 438,249.9 Z" stroke="#2b2b2b" stroke-width="1.0" fill="#f6f7e6" stroke-linejoin="round" stroke-linecap="round" />
<clipPath id="lensclip"><ellipse cx="458" cy="305.2" rx="28.2" ry="44.6" transform="rotate(-6 458 305.2)"/></clipPath>
<rect x="428" y="258" width="62" height="95" fill="url(#scal)" stroke="none" clip-path="url(#lensclip)"/>
<ellipse cx="474" cy="306" rx="11" ry="40" fill="#7d7d74" fill-opacity="0.45" stroke="none" clip-path="url(#lensclip)"/>
<ellipse cx="458.0" cy="305.2" rx="28.2" ry="44.6" transform="rotate(-6 458.0 305.2)" stroke="#2b2b2b" stroke-width="1.1" fill="none"/>
<ellipse cx="458.3" cy="305.2" rx="26.6" ry="43.0" transform="rotate(-6 458.3 305.2)" stroke="#2b2b2b" stroke-width="0.7" fill="none"/>
<path d="M486.5,272 Q490,274 490.2,279 L493.6,350 Q493.6,357 489.5,360.5 L485.5,359.5" stroke="#2b2b2b" stroke-width="0.9" fill="none" stroke-linejoin="round" stroke-linecap="round" />
<path d="M490.2,278 L491.8,350" stroke="#444" stroke-width="1.2" fill="none" stroke-linejoin="round" stroke-linecap="round" />
<circle cx="437.1" cy="255.4" r="1.4" stroke="#2b2b2b" stroke-width="0.8" fill="none"/>
<circle cx="483.1" cy="275.1" r="1.4" stroke="#2b2b2b" stroke-width="0.8" fill="none"/>
<circle cx="479.8" cy="354.0" r="1.4" stroke="#2b2b2b" stroke-width="0.8" fill="none"/>
<path d="M383.5,257 L424,277.5 Q428.5,279.5 429,284 L435,358 Q435.5,364 431,369 Q428,372 424,370.5 L380,352 L376,273.4 L379.2,261 Q379.5,257 383.5,257 Z" stroke="none" stroke-width="0" fill="#f6f7e6" stroke-linejoin="round" stroke-linecap="round" />
<path d="M376,273.4 L379.2,261 Q379.5,257 383.5,257 L424,277.5 Q428.5,279.5 429,284 L435,358 Q435.5,364 431,369 Q428,372 424,370.5 L398,360" stroke="#2b2b2b" stroke-width="1.0" fill="none" stroke-linejoin="round" stroke-linecap="round" />
<path d="M381.8,255.7 L425.6,275.6 Q430.5,277.8 431.5,283 L437.5,357.5 Q437.8,365 433,370.5 L428,372" stroke="#2b2b2b" stroke-width="0.8" fill="none" stroke-linejoin="round" stroke-linecap="round" />
<path d="M385.4,276.9 C386.5,276.2 389.4,273.5 392.0,272.5 C394.6,271.5 397.6,270.6 400.8,271.0 C404.0,271.4 407.6,272.6 411.0,275.0 C414.4,277.4 418.3,281.0 420.9,285.2 C423.5,289.4 425.3,294.9 426.5,300.0 C427.7,305.1 428.0,310.2 428.0,316.0 C428.0,321.8 427.3,329.5 426.5,335.0 C425.7,340.5 424.6,345.8 423.2,349.1 C421.8,352.4 419.8,353.4 418.0,355.0 C416.2,356.6 414.9,357.6 412.6,358.6 C410.3,359.6 405.4,360.6 404.0,361.0" stroke="#2b2b2b" stroke-width="0.9" fill="none" stroke-linejoin="round" stroke-linecap="round" />
<path d="M377.1,297 C378,315 379,330 380.6,339.6" stroke="#2b2b2b" stroke-width="0.7" fill="none" stroke-linejoin="round" stroke-linecap="round" />
<circle cx="383.0" cy="262.7" r="1.4" stroke="#2b2b2b" stroke-width="0.8" fill="none"/>
<circle cx="424.4" cy="286.4" r="1.4" stroke="#2b2b2b" stroke-width="0.8" fill="none"/>
<circle cx="420.9" cy="368.0" r="1.4" stroke="#2b2b2b" stroke-width="0.8" fill="none"/>
<path d="M373.2,289.7 Q371.8,305 372.1,315 Q372.5,328 374.5,338" stroke="#2b2b2b" stroke-width="0.8" fill="none" stroke-linejoin="round" stroke-linecap="round" />
<path d="M376.8,296 Q376,308 376.3,318 Q376.8,328 378.5,334" stroke="#2b2b2b" stroke-width="0.7" fill="none" stroke-linejoin="round" stroke-linecap="round" />
<circle cx="381.0" cy="340.2" r="1.4" stroke="#2b2b2b" stroke-width="0.8" fill="none"/>
<path d="M342.5,263.5 Q338,263.5 337,268 L331.5,305 Q330,320 332.5,335 L334.5,350 Q335.5,354 340,355.5 L385.5,381 Q390,383 391,378 L389.8,292.5 Q389.5,288.5 385.5,286.5 Z M352.75,279.5 A24.5,44.5 -12 1 0 371.25,366.5 A24.5,44.5 -12 1 0 352.75,279.5 Z" stroke="none" stroke-width="0" fill="#f6f7e6" stroke-linejoin="round" stroke-linecap="round" fill-rule="evenodd"/>
<path d="M342.5,263.5 Q338,263.5 337,268 L331.5,305 Q330,320 332.5,335 L334.5,350 Q335.5,354 340,355.5 L385.5,381 Q390,383 391,378 L389.8,292.5 Q389.5,288.5 385.5,286.5 Z" stroke="#2b2b2b" stroke-width="1.0" fill="none" stroke-linejoin="round" stroke-linecap="round" />
<path d="M342.7,263.3 L344,262 L389,283.5 Q394,286 394.2,291 L397,372 Q397,379 392.5,383 L387,382.5" stroke="#2b2b2b" stroke-width="0.9" fill="none" stroke-linejoin="round" stroke-linecap="round" />
<ellipse cx="362.0" cy="323.0" rx="24.5" ry="44.5" transform="rotate(-12 362.0 323.0)" stroke="#2b2b2b" stroke-width="1.0" fill="none"/>
<ellipse cx="360.5" cy="323.0" rx="22.5" ry="42.0" transform="rotate(-12 360.5 323.0)" stroke="#2b2b2b" stroke-width="0.6" fill="none"/>
<circle cx="340.4" cy="271.6" r="1.5" stroke="#2b2b2b" stroke-width="0.8" fill="none"/>
<circle cx="381.8" cy="294.0" r="1.5" stroke="#2b2b2b" stroke-width="0.8" fill="none"/>
<circle cx="339.2" cy="349.6" r="1.5" stroke="#2b2b2b" stroke-width="0.8" fill="none"/>
<circle cx="379.9" cy="375.7" r="1.5" stroke="#2b2b2b" stroke-width="0.8" fill="none"/>
<path d="M313.5,352.5 L328.9,349.2 L328.9,351.8 L314,356 Z" stroke="#2b2b2b" stroke-width="0.9" fill="none" stroke-linejoin="round" stroke-linecap="round" />
<ellipse cx="312.5" cy="354.5" rx="2.0" ry="2.3" transform="rotate(0 312.5 354.5)" stroke="#2b2b2b" stroke-width="1.0" fill="none"/>
<path d="M621.1,284.4 L624.4,282.8 L629.4,281.7 L635.6,280.6 L646.7,283.9 L649.5,285.5 L649.5,289 L646.7,290.5 L636,291.5 L630,289.5 L622,291.5 L621.4,295 L623.2,296.5 L623.2,299.5 L635.6,308.8 L652.2,307.2 L650.8,300.5 L649,298" stroke="#2b2b2b" stroke-width="1.0" fill="none" stroke-linejoin="round" stroke-linecap="round" />
<path d="M629.4,281.7 L633,285.5 L646.7,283.9 M633,285.5 L633,291" stroke="#2b2b2b" stroke-width="0.8" fill="none" stroke-linejoin="round" stroke-linecap="round" />
<path d="M625.5,288 L630,286.5 L630,289.5" stroke="#2b2b2b" stroke-width="0.8" fill="none" stroke-linejoin="round" stroke-linecap="round" />
<path d="M646.7,284.4 L646.7,300 M649.5,289 L650,300" stroke="#2b2b2b" stroke-width="0.9" fill="none" stroke-linejoin="round" stroke-linecap="round" />
<path d="M636.7,300.5 L640.5,305 L648,304 M638,297 L645,296" stroke="#2b2b2b" stroke-width="0.8" fill="none" stroke-linejoin="round" stroke-linecap="round" />
<path d="M627,297 L633,294 L640,294.5 L644,298" stroke="#2b2b2b" stroke-width="0.9" fill="#8a8a80" stroke-linejoin="round" stroke-linecap="round" />
<path d="M650,285.8 L664,286.2 Q665.8,287.6 664,289.2 L651,289.5" stroke="#2b2b2b" stroke-width="1.0" fill="none" stroke-linejoin="round" stroke-linecap="round" />
<ellipse cx="654.4" cy="298.3" rx="3.6" ry="4.2" transform="rotate(-10 654.4 298.3)" stroke="#2b2b2b" stroke-width="1.0" fill="#f6f7e6"/>
<ellipse cx="658.9" cy="297.2" rx="3.6" ry="4.2" transform="rotate(-10 658.9 297.2)" stroke="#2b2b2b" stroke-width="1.0" fill="#f6f7e6"/>
<ellipse cx="659.3" cy="297.2" rx="1.6" ry="2.2" transform="rotate(-10 659.3 297.2)" stroke="#2b2b2b" stroke-width="0.7" fill="none"/>
<path d="M624,300 L632,306" stroke="#2b2b2b" stroke-width="0.6" fill="none" stroke-linejoin="round" stroke-linecap="round" />
<path d="M677.2,273.3 L690.6,274.8 L690.6,298.3 L677.2,297 Z" stroke="#2b2b2b" stroke-width="1.1" fill="none" stroke-linejoin="round" stroke-linecap="round" />
<path d="M689,275 L689,297.5" stroke="#2b2b2b" stroke-width="0.6" fill="none" stroke-linejoin="round" stroke-linecap="round" />
<ellipse cx="682.8" cy="281.1" rx="1.9" ry="3.0" transform="rotate(-10 682.8 281.1)" stroke="#2b2b2b" stroke-width="1.0" fill="none"/>
<ellipse cx="682.8" cy="291.7" rx="1.9" ry="3.0" transform="rotate(-10 682.8 291.7)" stroke="#2b2b2b" stroke-width="1.0" fill="none"/>
<path d="M621.5,310.3 L631.5,308.8 L631.8,310.5 L622,313.8" stroke="#2b2b2b" stroke-width="1.0" fill="none" stroke-linejoin="round" stroke-linecap="round" />
<ellipse cx="619.8" cy="312.2" rx="2.9" ry="2.9" transform="rotate(0 619.8 312.2)" stroke="#2b2b2b" stroke-width="1.2" fill="#f6f7e6"/>
<ellipse cx="619.8" cy="312.2" rx="1.1" ry="1.1" transform="rotate(0 619.8 312.2)" stroke="#2b2b2b" stroke-width="0.7" fill="none"/>
<path d="M221.6,501.4 L222.6,502.3" stroke="#3a3a3a" stroke-width="0.8" fill="none" stroke-linejoin="round" stroke-linecap="round" />
<path d="M219.2,503.2 L225,503.2" stroke="#3a3a3a" stroke-width="0.8" fill="none" stroke-linejoin="round" stroke-linecap="round" />
<circle cx="222.1" cy="505.2" r="1.3" stroke="#3a3a3a" stroke-width="0.8" fill="none"/>
<path d="M217.5,507.6 L226.8,507.6" stroke="#3a3a3a" stroke-width="0.8" fill="none" stroke-linejoin="round" stroke-linecap="round" />
<path d="M222.1,507.6 L222.1,511.8" stroke="#3a3a3a" stroke-width="0.8" fill="none" stroke-linejoin="round" stroke-linecap="round" />
<path d="M229.8,501.6 L229.8,506.2 L233.6,506.2 L233.6,501.6 M229.8,503.9 L233.6,503.9" stroke="#3a3a3a" stroke-width="0.8" fill="none" stroke-linejoin="round" stroke-linecap="round" />
<path d="M236.2,501.3 L236.2,507 M236.2,504 L238.3,504" stroke="#3a3a3a" stroke-width="0.8" fill="none" stroke-linejoin="round" stroke-linecap="round" />
<circle cx="233.8" cy="509.6" r="2.1" stroke="#3a3a3a" stroke-width="0.8" fill="none"/>
<path d="M245,502 L250,502 M247.5,502 L245,506.3 M247.5,502 L250.3,506.3" stroke="#3a3a3a" stroke-width="0.8" fill="none" stroke-linejoin="round" stroke-linecap="round" />
<path d="M252.5,501.3 L252.5,507 M252.5,504 L254.4,504" stroke="#3a3a3a" stroke-width="0.8" fill="none" stroke-linejoin="round" stroke-linecap="round" />
<path d="M246,508.3 L253,508.3 L253,511.9" stroke="#3a3a3a" stroke-width="0.8" fill="none" stroke-linejoin="round" stroke-linecap="round" />
<circle cx="258.8" cy="503.6" r="2.1" stroke="#3a3a3a" stroke-width="0.8" fill="none"/>
<path d="M264.4,501.3 L264.4,507 M262.3,504 L264.4,504" stroke="#3a3a3a" stroke-width="0.8" fill="none" stroke-linejoin="round" stroke-linecap="round" />
<path d="M258.2,508.2 L258.2,511.9 L264.4,511.9 L264.4,508.2 M258.2,510 L264.4,510" stroke="#3a3a3a" stroke-width="0.8" fill="none" stroke-linejoin="round" stroke-linecap="round" />
<path d="M281,501.7 L273.8,501.7 L273.8,504.6 L281.2,504.6" stroke="#3a3a3a" stroke-width="0.8" fill="none" stroke-linejoin="round" stroke-linecap="round" />
<path d="M272.7,506.6 L282.3,506.6" stroke="#3a3a3a" stroke-width="0.8" fill="none" stroke-linejoin="round" stroke-linecap="round" />
<circle cx="277.5" cy="509.6" r="2.0" stroke="#3a3a3a" stroke-width="0.8" fill="none"/>
<path d="M426.4,524.8 L421.7,537.8 L435.9,534.4" stroke="#222" stroke-width="1.3" fill="none" stroke-linejoin="round" stroke-linecap="round" />
<path d="M431.3,526.6 L428.2,544.5" stroke="#222" stroke-width="1.3" fill="none" stroke-linejoin="round" stroke-linecap="round" />
<path d="M441.5,524.2 L439.9,543" stroke="#222" stroke-width="1.3" fill="none" stroke-linejoin="round" stroke-linecap="round" />
<path d="M448.9,523.9 L446.7,546.1" stroke="#222" stroke-width="1.3" fill="none" stroke-linejoin="round" stroke-linecap="round" /></g>
</svg>
</body></html>
